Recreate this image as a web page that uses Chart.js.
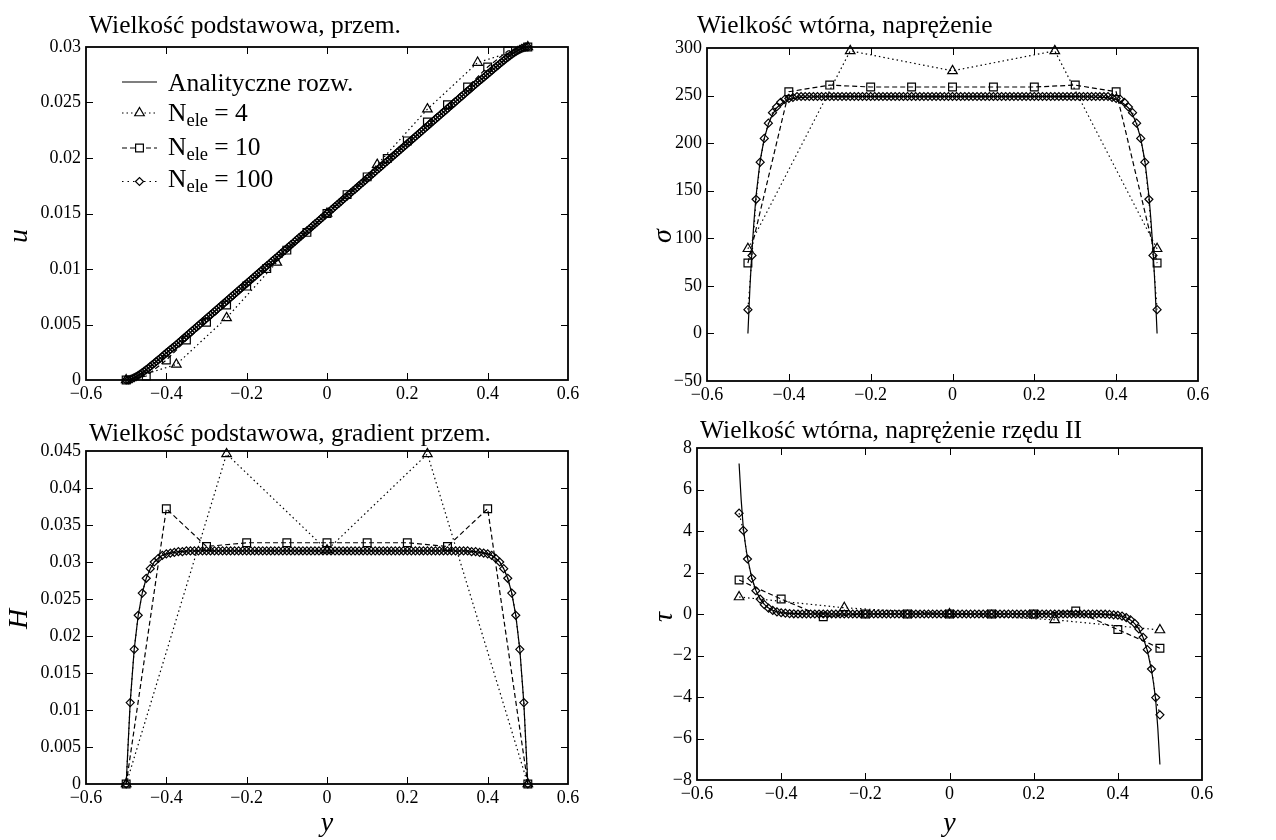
<!DOCTYPE html>
<html>
<head>
<meta charset="utf-8">
<script src="https://cdn.jsdelivr.net/npm/chart.js@4/dist/chart.umd.min.js"></script>
<style>
  body { margin: 0; background: #fff; }
  #wrap { position: relative; width: 1276px; height: 840px; }
  canvas { position: absolute; }
</style>
</head>
<body>
<div id="wrap">
  <canvas id="c1" width="640" height="415" style="left:0px;top:0px"></canvas>
  <canvas id="c2" width="636" height="415" style="left:640px;top:0px"></canvas>
  <canvas id="c3" width="640" height="425" style="left:0px;top:415px"></canvas>
  <canvas id="c4" width="636" height="425" style="left:640px;top:415px"></canvas>
</div>
<script>
// --- dane ---
const seriesLabels = ['Analityczne rozw.', 'N = 4', 'N = 10', 'N = 100'];
const legendN = ['4', '10', '100'];

// wezly
const yN4u = [-0.5, -0.375, -0.25, -0.125, 0, 0.125, 0.25, 0.375, 0.5];
const yN10u = [-0.5, -0.45, -0.4, -0.35, -0.3, -0.25, -0.2, -0.15, -0.1, -0.05, 0,
  0.05, 0.1, 0.15, 0.2, 0.25, 0.3, 0.35, 0.4, 0.45, 0.5];
const yN100u = [
  -0.5, -0.495, -0.49, -0.485, -0.48, -0.475, -0.47, -0.465, -0.46, -0.455,
  -0.45, -0.445, -0.44, -0.435, -0.43, -0.425, -0.42, -0.415, -0.41, -0.405,
  -0.4, -0.395, -0.39, -0.385, -0.38, -0.375, -0.37, -0.365, -0.36, -0.355,
  -0.35, -0.345, -0.34, -0.335, -0.33, -0.325, -0.32, -0.315, -0.31, -0.305,
  -0.3, -0.295, -0.29, -0.285, -0.28, -0.275, -0.27, -0.265, -0.26, -0.255,
  -0.25, -0.245, -0.24, -0.235, -0.23, -0.225, -0.22, -0.215, -0.21, -0.205,
  -0.2, -0.195, -0.19, -0.185, -0.18, -0.175, -0.17, -0.165, -0.16, -0.155,
  -0.15, -0.145, -0.14, -0.135, -0.13, -0.125, -0.12, -0.115, -0.11, -0.105,
  -0.1, -0.095, -0.09, -0.085, -0.08, -0.075, -0.07, -0.065, -0.06, -0.055,
  -0.05, -0.045, -0.04, -0.035, -0.03, -0.025, -0.02, -0.015, -0.01, -0.005,
  0,
  0.005, 0.01, 0.015, 0.02, 0.025, 0.03, 0.035, 0.04, 0.045, 0.05,
  0.055, 0.06, 0.065, 0.07, 0.075, 0.08, 0.085, 0.09, 0.095, 0.1,
  0.105, 0.11, 0.115, 0.12, 0.125, 0.13, 0.135, 0.14, 0.145, 0.15,
  0.155, 0.16, 0.165, 0.17, 0.175, 0.18, 0.185, 0.19, 0.195, 0.2,
  0.205, 0.21, 0.215, 0.22, 0.225, 0.23, 0.235, 0.24, 0.245, 0.25,
  0.255, 0.26, 0.265, 0.27, 0.275, 0.28, 0.285, 0.29, 0.295, 0.3,
  0.305, 0.31, 0.315, 0.32, 0.325, 0.33, 0.335, 0.34, 0.345, 0.35,
  0.355, 0.36, 0.365, 0.37, 0.375, 0.38, 0.385, 0.39, 0.395, 0.4,
  0.405, 0.41, 0.415, 0.42, 0.425, 0.43, 0.435, 0.44, 0.445, 0.45,
  0.455, 0.46, 0.465, 0.47, 0.475, 0.48, 0.485, 0.49, 0.495, 0.5];
const yN4 = [-0.5, -0.25, 0, 0.25, 0.5];
const yN10 = [-0.5, -0.4, -0.3, -0.2, -0.1, 0, 0.1, 0.2, 0.3, 0.4, 0.5];
const yN100 = [
  -0.5, -0.49, -0.48, -0.47, -0.46, -0.45, -0.44, -0.43, -0.42, -0.41,
  -0.4, -0.39, -0.38, -0.37, -0.36, -0.35, -0.34, -0.33, -0.32, -0.31,
  -0.3, -0.29, -0.28, -0.27, -0.26, -0.25, -0.24, -0.23, -0.22, -0.21,
  -0.2, -0.19, -0.18, -0.17, -0.16, -0.15, -0.14, -0.13, -0.12, -0.11,
  -0.1, -0.09, -0.08, -0.07, -0.06, -0.05, -0.04, -0.03, -0.02, -0.01,
  0,
  0.01, 0.02, 0.03, 0.04, 0.05, 0.06, 0.07, 0.08, 0.09, 0.1,
  0.11, 0.12, 0.13, 0.14, 0.15, 0.16, 0.17, 0.18, 0.19, 0.2,
  0.21, 0.22, 0.23, 0.24, 0.25, 0.26, 0.27, 0.28, 0.29, 0.3,
  0.31, 0.32, 0.33, 0.34, 0.35, 0.36, 0.37, 0.38, 0.39, 0.4,
  0.41, 0.42, 0.43, 0.44, 0.45, 0.46, 0.47, 0.48, 0.49, 0.5];
const yExact = [-0.5, -0.495, -0.49, -0.485, -0.48, -0.47, -0.46, -0.45, -0.44, -0.43,
  -0.42, -0.41, -0.4, -0.38, -0.35, -0.3, 0, 0.3, 0.35, 0.38, 0.4, 0.41, 0.42, 0.43,
  0.44, 0.45, 0.46, 0.47, 0.48, 0.485, 0.49, 0.495, 0.5];

// przemieszczenie u
const uN4 = [0, 0.0014, 0.0056, 0.0106, 0.015, 0.0194, 0.0244, 0.0286, 0.03];
const uN10 = [0, 0.00036, 0.0018, 0.0036, 0.0052, 0.00675, 0.00846, 0.01005, 0.0117, 0.0133, 0.015,
  0.0167, 0.0183, 0.01995, 0.02154, 0.02325, 0.0248, 0.0264, 0.0282, 0.02964, 0.03];
const uN100 = [
  0, 0.00002, 0.00006, 0.00013, 0.00021, 0.00031, 0.00042, 0.00054, 0.00066, 0.0008,
  0.00093, 0.00107, 0.00122, 0.00137, 0.00152, 0.00167, 0.00182, 0.00197, 0.00213, 0.00228,
  0.00244, 0.00259, 0.00275, 0.0029, 0.00303, 0.00319, 0.00335, 0.0035, 0.00366, 0.00382,
  0.00398, 0.00413, 0.00429, 0.00445, 0.00461, 0.00476, 0.00492, 0.00508, 0.00524, 0.00539,
  0.00555, 0.00571, 0.00587, 0.00602, 0.00618, 0.00634, 0.0065, 0.00665, 0.00681, 0.00697,
  0.00713, 0.00728, 0.00744, 0.0076, 0.00776, 0.00791, 0.00807, 0.00823, 0.00839, 0.00854,
  0.0087, 0.00886, 0.00902, 0.00917, 0.00933, 0.00949, 0.00965, 0.0098, 0.00996, 0.01012,
  0.01028, 0.01043, 0.01059, 0.01075, 0.01091, 0.01106, 0.01122, 0.01138, 0.01154, 0.01169,
  0.01185, 0.01201, 0.01217, 0.01232, 0.01248, 0.01264, 0.0128, 0.01295, 0.01311, 0.01327,
  0.01343, 0.01358, 0.01374, 0.0139, 0.01406, 0.01421, 0.01437, 0.01453, 0.01469, 0.01484,
  0.015,
  0.01516, 0.01531, 0.01547, 0.01563, 0.01579, 0.01594, 0.0161, 0.01626, 0.01642, 0.01657,
  0.01673, 0.01689, 0.01705, 0.0172, 0.01736, 0.01752, 0.01768, 0.01783, 0.01799, 0.01815,
  0.01831, 0.01846, 0.01862, 0.01878, 0.01894, 0.01909, 0.01925, 0.01941, 0.01957, 0.01972,
  0.01988, 0.02004, 0.0202, 0.02035, 0.02051, 0.02067, 0.02083, 0.02098, 0.02114, 0.0213,
  0.02146, 0.02161, 0.02177, 0.02193, 0.02209, 0.02224, 0.0224, 0.02256, 0.02272, 0.02287,
  0.02303, 0.02319, 0.02335, 0.0235, 0.02366, 0.02382, 0.02398, 0.02413, 0.02429, 0.02445,
  0.02461, 0.02476, 0.02492, 0.02508, 0.02524, 0.02539, 0.02555, 0.02571, 0.02587, 0.02602,
  0.02618, 0.02634, 0.0265, 0.02665, 0.02681, 0.02697, 0.0271, 0.02725, 0.02741, 0.02756,
  0.02772, 0.02787, 0.02803, 0.02818, 0.02833, 0.02848, 0.02863, 0.02878, 0.02893, 0.02907,
  0.0292, 0.02934, 0.02946, 0.02958, 0.02969, 0.02979, 0.02987, 0.02994, 0.02998, 0.03];
const uExact = uN100;

// gradient H
const hN4 = [0, 0.0446, 0.0316, 0.0446, 0];
const hN10 = [0, 0.0372, 0.0321, 0.0326, 0.0326, 0.0326, 0.0326, 0.0326, 0.0321, 0.0372, 0];
const hN100 = [
  0, 0.011, 0.0182, 0.0228, 0.0258, 0.0278, 0.0291, 0.03, 0.0305, 0.0309,
  0.0311, 0.0312, 0.0313, 0.0314, 0.0314, 0.0315, 0.0315, 0.0315, 0.0315, 0.0315,
  0.0315, 0.0315, 0.0315, 0.0315, 0.0315, 0.0315, 0.0315, 0.0315, 0.0315, 0.0315,
  0.0315, 0.0315, 0.0315, 0.0315, 0.0315, 0.0315, 0.0315, 0.0315, 0.0315, 0.0315,
  0.0315, 0.0315, 0.0315, 0.0315, 0.0315, 0.0315, 0.0315, 0.0315, 0.0315, 0.0315,
  0.0315,
  0.0315, 0.0315, 0.0315, 0.0315, 0.0315, 0.0315, 0.0315, 0.0315, 0.0315, 0.0315,
  0.0315, 0.0315, 0.0315, 0.0315, 0.0315, 0.0315, 0.0315, 0.0315, 0.0315, 0.0315,
  0.0315, 0.0315, 0.0315, 0.0315, 0.0315, 0.0315, 0.0315, 0.0315, 0.0315, 0.0315,
  0.0315, 0.0315, 0.0315, 0.0315, 0.0315, 0.0314, 0.0314, 0.0313, 0.0312, 0.0311,
  0.0309, 0.0305, 0.03, 0.0291, 0.0278, 0.0258, 0.0228, 0.0182, 0.011, 0];
const hExact = hN100;

// naprezenie sigma
const sN4 = [89, 297, 276, 297, 89];
const sN10 = [74, 254, 261, 259, 259, 259, 259, 259, 261, 254, 74];
const sN100 = [
  25, 82, 141, 180, 205, 221, 232, 238, 243, 246,
  247, 248, 249, 249, 249, 249, 249, 249, 249, 249,
  249, 249, 249, 249, 249, 249, 249, 249, 249, 249,
  249, 249, 249, 249, 249, 249, 249, 249, 249, 249,
  249, 249, 249, 249, 249, 249, 249, 249, 249, 249,
  249,
  249, 249, 249, 249, 249, 249, 249, 249, 249, 249,
  249, 249, 249, 249, 249, 249, 249, 249, 249, 249,
  249, 249, 249, 249, 249, 249, 249, 249, 249, 249,
  249, 249, 249, 249, 249, 249, 249, 249, 248, 247,
  246, 243, 238, 232, 221, 205, 180, 141, 82, 25];
const sExact = [0, 49, 88, 119, 145, 182, 205, 220, 230, 237, 241, 244, 246, 247.5, 248.5, 249,
  249, 249, 248.5, 247.5, 246, 244, 241, 237, 230, 220, 205, 182, 145, 119, 88, 49, 0];

// naprezenie rzedu II tau
const tN4 = [0.82, 0.3, 0, -0.28, -0.77];
const tN10 = [1.64, 0.72, -0.13, 0, 0, 0, 0, 0, 0.14, -0.75, -1.65];
const tN100 = [
  4.86, 4.03, 2.65, 1.72, 1.12, 0.72, 0.45, 0.28, 0.17, 0.1,
  0.06, 0.04, 0.02, 0.01, 0, 0, 0, 0, 0, 0,
  0, 0, 0, 0, 0, 0, 0, 0, 0, 0,
  0, 0, 0, 0, 0, 0, 0, 0, 0, 0,
  0, 0, 0, 0, 0, 0, 0, 0, 0, 0,
  0,
  0, 0, 0, 0, 0, 0, 0, 0, 0, 0,
  0, 0, 0, 0, 0, 0, 0, 0, 0, 0,
  0, 0, 0, 0, 0, 0, 0, 0, 0, 0,
  0, 0, 0, 0, 0, 0, -0.01, -0.02, -0.04, -0.06,
  -0.1, -0.17, -0.28, -0.45, -0.72, -1.12, -1.72, -2.65, -4.03, -4.86];
const tExact = [7.25, 5.5, 4.15, 3.35, 2.7, 1.75, 1.13, 0.73, 0.46, 0.29, 0.18, 0.11, 0.07, 0.03, 0.01, 0,
  0, 0, -0.01, -0.03, -0.07, -0.11, -0.18, -0.29, -0.46, -0.73, -1.13, -1.75, -2.7, -3.35, -4.15, -5.5, -7.25];

// --- rysowanie ---
Chart.defaults.font.family = '"Liberation Serif", serif';
Chart.defaults.color = '#000';

const SERIF = '"Liberation Serif", serif';
const styles = [
  { dash: [], marker: null, r: 0 },
  { dash: [1.5, 3], marker: 'triangle', r: 5.5 },
  { dash: [5, 3], marker: 'rect', r: 5.5 },
  { dash: [1.5, 4], marker: 'rectRot', r: 4 }
];

function pts(xs, ys) {
  return xs.map((x, i) => ({ x: x, y: ys[i] }));
}

function fmt(v, dec) {
  if (Math.abs(v) < 1e-9) return '0';
  return String(parseFloat(v.toFixed(dec))).replace('-', '\u2212');
}

function marker(ctx, style, r, x, y) {
  if (Chart.helpers && Chart.helpers.drawPoint) {
    Chart.helpers.drawPoint(ctx, { pointStyle: style, radius: r, rotation: 0, borderWidth: 1.2 }, x, y);
  }
}

// ramka z wewnetrznymi znacznikami na wszystkich bokach
const framePlug = {
  id: 'frame',
  afterDatasetsDraw(chart) {
    const { ctx, chartArea: a, scales } = chart;
    ctx.save();
    ctx.strokeStyle = '#000';
    ctx.setLineDash([]);
    ctx.lineWidth = 1;
    const tl = 7;
    scales.x.ticks.forEach(t => {
      const px = Math.round(scales.x.getPixelForValue(t.value)) + 0.5;
      if (px <= a.left + 1 || px >= a.right - 1) return;
      ctx.beginPath();
      ctx.moveTo(px, a.bottom); ctx.lineTo(px, a.bottom - tl);
      ctx.moveTo(px, a.top); ctx.lineTo(px, a.top + tl);
      ctx.stroke();
    });
    scales.y.ticks.forEach(t => {
      const py = Math.round(scales.y.getPixelForValue(t.value)) + 0.5;
      if (py <= a.top + 1 || py >= a.bottom - 1) return;
      ctx.beginPath();
      ctx.moveTo(a.left, py); ctx.lineTo(a.left + tl, py);
      ctx.moveTo(a.right, py); ctx.lineTo(a.right - tl, py);
      ctx.stroke();
    });
    ctx.lineWidth = 1.8;
    ctx.strokeRect(a.left, a.top, a.right - a.left, a.bottom - a.top);
    ctx.restore();
  }
};

// tytul panelu i opis osi pionowej
const titlePlug = {
  id: 'panelTitle',
  afterDraw(chart, args, opts) {
    const ctx = chart.ctx;
    ctx.save();
    ctx.fillStyle = '#000';
    ctx.font = '25.5px ' + SERIF;
    ctx.textBaseline = 'alphabetic';
    ctx.fillText(opts.text, opts.x, opts.y);
    ctx.translate(opts.lx, opts.ly);
    ctx.rotate(-Math.PI / 2);
    ctx.font = 'italic 28px ' + SERIF;
    ctx.textAlign = 'center';
    ctx.textBaseline = 'middle';
    ctx.fillText(opts.label, 0, 0);
    ctx.restore();
  }
};

const legendPlug = {
  id: 'legendBox',
  afterDraw(chart) {
    const ctx = chart.ctx;
    const rows = [{ ly: 82, by: 91 }, { ly: 113, by: 121 }, { ly: 148, by: 154.5 }, { ly: 181.5, by: 187 }];
    ctx.save();
    ctx.fillStyle = '#000';
    ctx.strokeStyle = '#000';
    ctx.lineWidth = 1.2;
    rows.forEach((row, i) => {
      const st = styles[i];
      ctx.setLineDash(st.dash);
      ctx.beginPath();
      ctx.moveTo(122, row.ly); ctx.lineTo(157, row.ly);
      ctx.stroke();
      ctx.setLineDash([]);
      if (st.marker) {
        ctx.save();
        ctx.fillStyle = '#fff';
        marker(ctx, st.marker, st.r, 139.5, row.ly);
        ctx.restore();
      }
      let x = 168;
      ctx.font = '25.5px ' + SERIF;
      if (i === 0) {
        ctx.fillText(seriesLabels[0], x, row.by);
      } else {
        ctx.fillText('N', x, row.by);
        x += ctx.measureText('N').width;
        ctx.font = '18.5px ' + SERIF;
        ctx.fillText('ele', x, row.by + 5);
        x += ctx.measureText('ele').width;
        ctx.font = '25.5px ' + SERIF;
        ctx.fillText(' = ' + legendN[i - 1], x, row.by);
      }
    });
    ctx.restore();
  }
};

function makeSets(ex, n4, n10, n100) {
  const all = [ex, n4, n10, n100];
  return all.map((d, i) => {
    const st = styles[i];
    return {
      label: seriesLabels[i],
      data: d,
      showLine: true,
      borderColor: '#000',
      borderWidth: 1.2,
      borderDash: st.dash,
      pointStyle: st.marker || 'circle',
      pointRadius: st.r,
      pointHoverRadius: st.r,
      pointBorderColor: '#000',
      pointBackgroundColor: 'rgba(0,0,0,0)',
      pointBorderWidth: 1.2,
      clip: false,
      order: i === 0 ? 0 : 4 - i
    };
  });
}

function panel(id, cfg) {
  const cv = document.getElementById(id);
  const W = cv.width, H = cv.height;
  const a = cfg.area;
  const plugins = [framePlug, titlePlug];
  if (cfg.legend) plugins.push(legendPlug);
  new Chart(cv, {
    type: 'scatter',
    data: { datasets: cfg.sets },
    options: {
      responsive: false,
      animation: false,
      devicePixelRatio: 1,
      layout: { autoPadding: false, padding: { left: 0, top: a.t, right: W - a.r, bottom: 0 } },
      plugins: {
        legend: { display: false },
        tooltip: { enabled: false },
        panelTitle: cfg.title
      },
      scales: {
        x: {
          type: 'linear', min: -0.6, max: 0.6,
          grid: { display: false, drawTicks: false },
          border: { display: false },
          ticks: {
            stepSize: 0.2, padding: 3, maxRotation: 0, autoSkip: false,
            font: { size: 18 }, color: '#000',
            callback: v => fmt(v, 1)
          },
          title: {
            display: !!cfg.xlabel, text: 'y', color: '#000',
            font: { family: SERIF, style: 'italic', size: 28 },
            padding: { top: 7, bottom: 0 }
          },
          afterFit: s => { s.height = H - a.b; s.paddingLeft = 0; s.paddingRight = 0; }
        },
        y: {
          type: 'linear', min: cfg.ymin, max: cfg.ymax,
          grid: { display: false, drawTicks: false },
          border: { display: false },
          ticks: {
            stepSize: cfg.ystep, padding: 5, autoSkip: false,
            font: { size: 18 }, color: '#000',
            callback: v => fmt(v, cfg.ydec)
          },
          title: { display: false },
          afterFit: s => { s.width = a.l; s.paddingTop = 0; s.paddingBottom = 0; }
        }
      }
    },
    plugins: plugins
  });
}

panel('c1', {
  area: { l: 86, t: 47, r: 568, b: 380 },
  ymin: 0, ymax: 0.03, ystep: 0.005, ydec: 3,
  title: { text: 'Wielkość podstawowa, przem.', x: 89, y: 33, label: 'u', lx: 20, ly: 236 },
  legend: true,
  sets: makeSets(pts(yN100u, uExact), pts(yN4u, uN4), pts(yN10u, uN10), pts(yN100u, uN100))
});

panel('c2', {
  area: { l: 67, t: 48, r: 558, b: 381 },
  ymin: -50, ymax: 300, ystep: 50, ydec: 0,
  title: { text: 'Wielkość wtórna, naprężenie', x: 57, y: 33, label: '\u03c3', lx: 24, ly: 236 },
  sets: makeSets(pts(yExact, sExact), pts(yN4, sN4), pts(yN10, sN10), pts(yN100, sN100))
});

panel('c3', {
  area: { l: 86, t: 36, r: 568, b: 369 },
  ymin: 0, ymax: 0.045, ystep: 0.005, ydec: 3, xlabel: true,
  title: { text: 'Wielkość podstawowa, gradient przem.', x: 89, y: 26, label: 'H', lx: 20, ly: 204 },
  sets: makeSets(pts(yN100, hExact), pts(yN4, hN4), pts(yN10, hN10), pts(yN100, hN100))
});

panel('c4', {
  area: { l: 57, t: 33, r: 562, b: 365 },
  ymin: -8, ymax: 8, ystep: 2, ydec: 0, xlabel: true,
  title: { text: 'Wielkość wtórna, naprężenie rzędu II', x: 60, y: 23, label: '\u03c4', lx: 25, ly: 202 },
  sets: makeSets(pts(yExact, tExact), pts(yN4, tN4), pts(yN10, tN10), pts(yN100, tN100))
});
</script>
</body>
</html>
